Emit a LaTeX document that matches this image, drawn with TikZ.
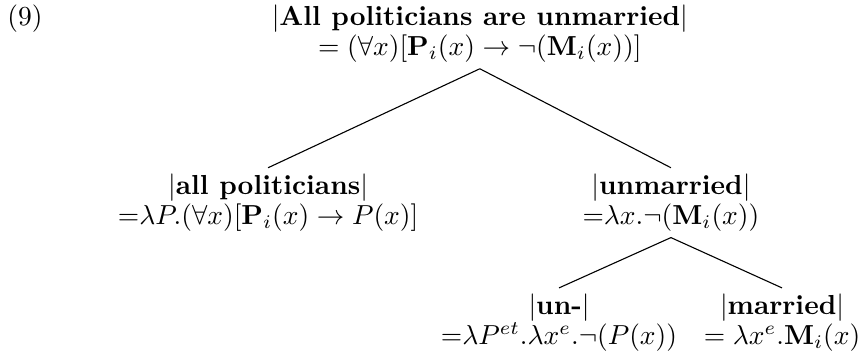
\documentclass[tikz,border=0pt]{standalone}
\usepackage{amsmath,amssymb}
\newcommand{\den}[1]{$|$\textbf{#1}$|$}

\begin{document}
\begin{tikzpicture}[x=1pt, y=1pt,
  tn/.style={align=center, inner sep=2pt, anchor=north, font=\fontsize{10}{11}\selectfont},
  br/.style={line width=0.4pt},
]
\useasboundingbox (0,0) rectangle (312.4,-129.45);
% ---------------- example number and root ----------------
\node[anchor=base west, inner sep=0pt] (num) at (2.5,-9.1) {(9)};
\node[tn] (root) at (174.5,0.4)
  {\den{All politicians are unmarried}\\ $= (\forall x)[\mathbf{P}_i(x)\to\neg(\mathbf{M}_i(x))]$};
% ---------------- daughters ----------------
\node[tn] (allpol) at (97.5,-61)
  {\den{all politicians}\\ ${=}\lambda P.(\forall x)[\mathbf{P}_i(x)\to P(x)]$};
\node[tn] (unmar) at (244,-61)
  {\den{unmarried}\\ ${=}\lambda x.\neg(\mathbf{M}_i(x))$};
\node[tn] (un) at (203.3,-104.7)
  {\den{un-}\\ ${=}\lambda P^{et}.\lambda x^{e}.\neg(P(x))$};
\node[tn] (mar) at (284.4,-104.7)
  {\den{married}\\ $=\lambda x^{e}.\mathbf{M}_i(x)$};
% ---------------- branches ----------------
\draw[br] (root.south) -- (allpol.north);
\draw[br] (root.south) -- (unmar.north);
\draw[br] (unmar.south) -- (un.north);
\draw[br] (unmar.south) -- (mar.north);
\end{tikzpicture}
\end{document}
